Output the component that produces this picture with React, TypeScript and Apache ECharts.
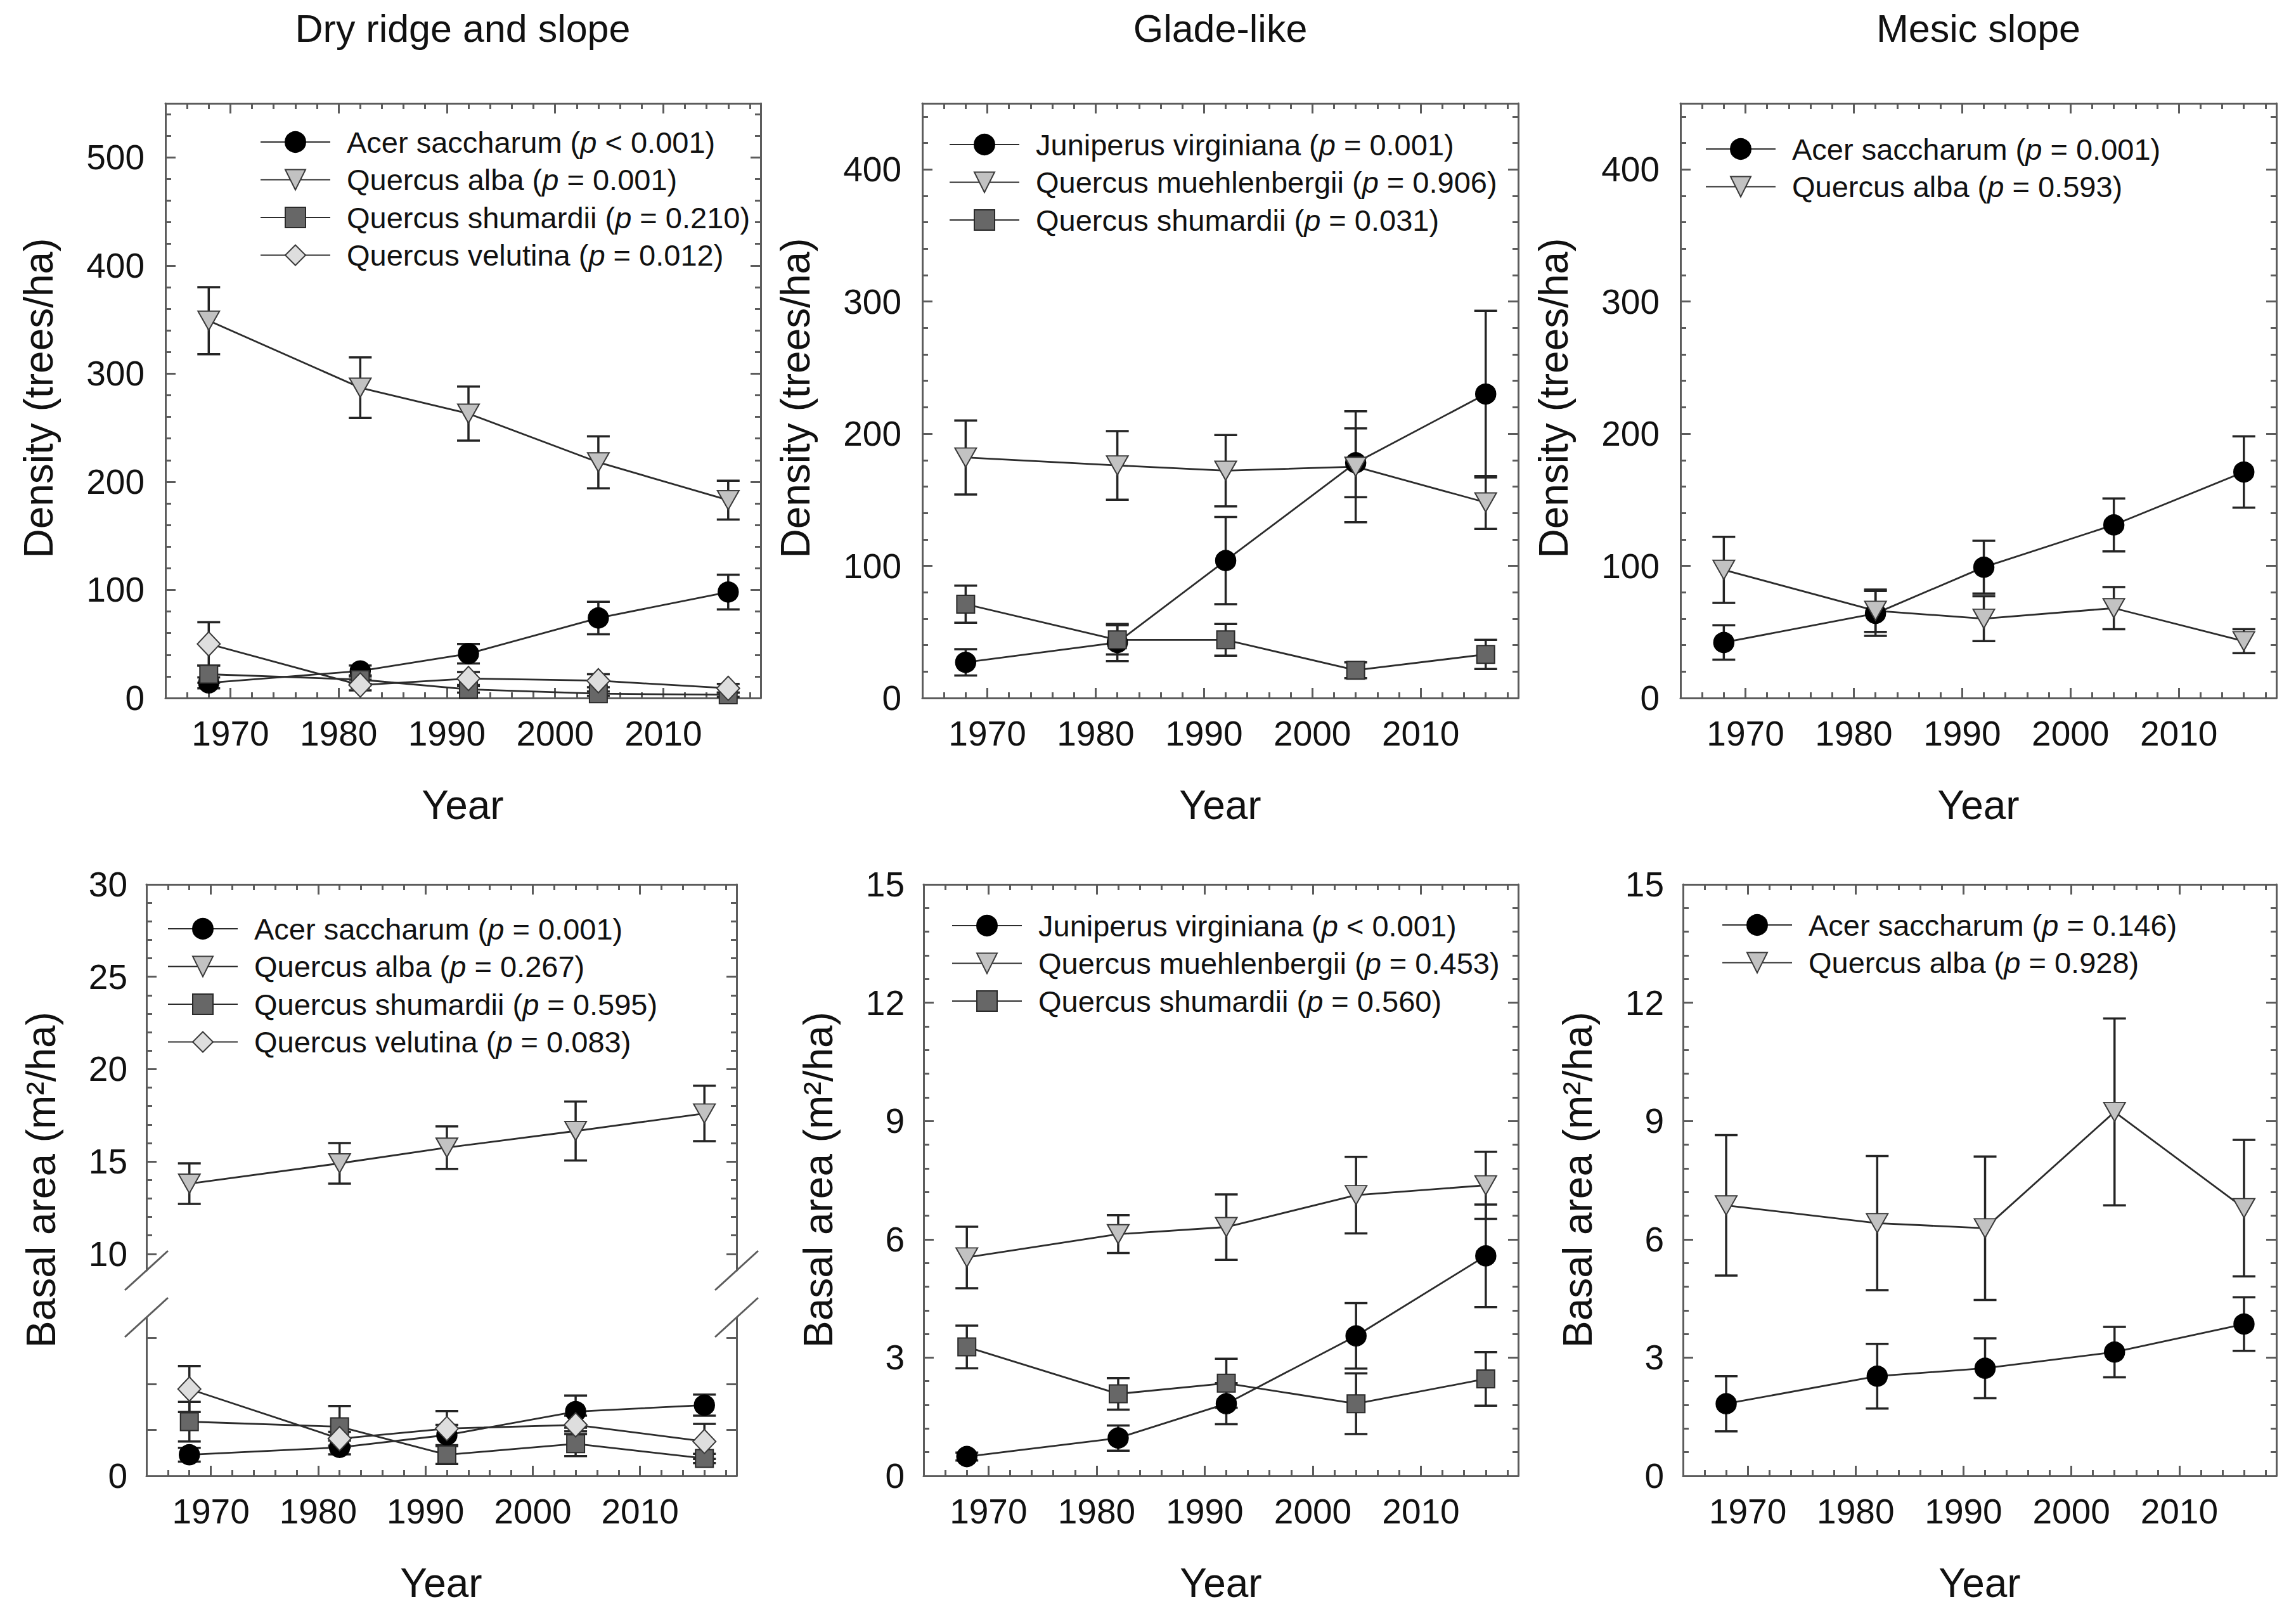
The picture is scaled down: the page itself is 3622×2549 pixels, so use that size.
import React, { useEffect, useRef } from "react";
import * as echarts from "echarts";

// ---------------- DATA ----------------
const YEARS = [1968, 1982, 1992, 2004, 2016];

// Density (trees/ha) — Dry ridge and slope
const dryDensAcer = [14, 25, 41, 74, 98];
const dryDensAcerSE = [5, 5, 9, 15, 16];
const dryDensAlba = [349, 287, 263, 218, 183];
const dryDensAlbaSE = [31, 28, 25, 24, 18];
const dryDensShum = [22, 17, 8, 4, 3];
const dryDensShumSE = [8, 4, 3, 2, 2];
const dryDensVel = [50, 12, 18, 16, 9];
const dryDensVelSE = [20, 5, 6, 6, 4];

// Density — Glade-like
const gladeDensJuni = [27, 42, 104, 178, 230];
const gladeDensJuniSE = [10, 14, 33, 26, 63];
const gladeDensMueh = [182, 176, 172, 175, 148];
const gladeDensMuehSE = [28, 26, 27, 42, 20];
const gladeDensShum = [71, 44, 44, 21, 33];
const gladeDensShumSE = [14, 11, 12, 6, 11];

// Density — Mesic slope
const mesicDensAcer = [42, 64, 99, 131, 171];
const mesicDensAcerSE = [13, 17, 20, 20, 27];
const mesicDensAlba = [97, 66, 60, 68, 43];
const mesicDensAlbaSE = [25, 16, 17, 16, 9];

// Basal area (m2/ha) — Dry ridge and slope
const dryBAAlba = [13.8, 14.9, 15.75, 16.65, 17.6];
const dryBAAlbaSE = [1.1, 1.1, 1.15, 1.6, 1.5];
const dryBAAcer = [0.46, 0.62, 0.89, 1.4, 1.54];
const dryBAAcerSE = [0.15, 0.15, 0.22, 0.35, 0.23];
const dryBAShum = [1.18, 1.07, 0.46, 0.7, 0.38];
const dryBAShumSE = [0.43, 0.45, 0.2, 0.27, 0.1];
const dryBAVel = [1.89, 0.81, 1.03, 1.11, 0.75];
const dryBAVelSE = [0.5, 0.15, 0.38, 0.2, 0.38];

// Basal area — Glade-like
const gladeBAJuni = [0.49, 0.96, 1.83, 3.55, 5.58];
const gladeBAJuniSE = [0.1, 0.32, 0.52, 0.83, 1.3];
const gladeBAMueh = [5.54, 6.13, 6.31, 7.12, 7.37];
const gladeBAMuehSE = [0.78, 0.48, 0.83, 0.97, 0.85];
const gladeBAShum = [3.27, 2.08, 2.35, 1.83, 2.46];
const gladeBAShumSE = [0.54, 0.4, 0.62, 0.77, 0.68];

// Basal area — Mesic slope
const mesicBAAcer = [1.83, 2.53, 2.73, 3.14, 3.85];
const mesicBAAcerSE = [0.7, 0.82, 0.76, 0.64, 0.68];
const mesicBAAlba = [6.86, 6.41, 6.28, 9.23, 6.79];
const mesicBAAlbaSE = [1.78, 1.7, 1.82, 2.37, 1.73];

// Tick labels
const X_TICKS = [1970, 1980, 1990, 2000, 2010];
const DENS_DRY_TICKS = [0, 100, 200, 300, 400, 500];
const DENS_TICKS = [0, 100, 200, 300, 400];
const BA_TICKS = [0, 3, 6, 9, 12, 15];
const BA_DRY_UPPER_TICKS = [10, 15, 20, 25, 30];
const BA_DRY_LOWER_LABELS = [0];
const BA_DRY_LOWER_MARKS = [1, 2, 3];

const TITLES = ["Dry ridge and slope", "Glade-like", "Mesic slope"];
const X_NAME = "Year";
const Y_NAME_DENS = "Density (trees/ha)";
const Y_NAME_BA = "Basal area (m\u00B2/ha)";

// ---------------- STYLE ----------------
const FONT = "'Liberation Sans', Arial, Helvetica, sans-serif";
const AX = "#5c5c5c";
const TXT = "#111";

const SYM: Record<string, any> = {
  circle: { symbol: "circle", symbolSize: 32, symbolRotate: 0, itemStyle: { color: "#000", borderColor: "#000", borderWidth: 1.5 } },
  tri: { symbol: "triangle", symbolSize: [34, 30], symbolRotate: 180, itemStyle: { color: "#c2c2c2", borderColor: "#3a3a3a", borderWidth: 2 } },
  square: { symbol: "rect", symbolSize: 28, symbolRotate: 0, itemStyle: { color: "#676767", borderColor: "#2a2a2a", borderWidth: 2 } },
  diamond: { symbol: "diamond", symbolSize: [36, 38], symbolRotate: 0, itemStyle: { color: "#dedede", borderColor: "#3a3a3a", borderWidth: 2 } },
};

function minorTicks(min: number, max: number, step: number, major: number) {
  const out: number[] = [];
  const k0 = Math.ceil(min / step - 1e-9);
  const k1 = Math.floor(max / step + 1e-9);
  for (let k = k0; k <= k1; k++) {
    const v = Math.round(k * step * 1e6) / 1e6;
    const r = v / major;
    if (Math.abs(r - Math.round(r)) < 1e-6) continue;
    if (v <= min + 1e-9 || v >= max - 1e-9) continue;
    out.push(v);
  }
  return out;
}

const X_MIN = 1964;
const X_MAX = 2019;
const X_MINOR = minorTicks(X_MIN, X_MAX, 2, 10);

type Panel = {
  grid: { left: number; top: number; width: number; height: number };
  yMin: number;
  yMax: number;
  yLabels: number[];
  yMajor: number[];
  yMinor: number[];
  top: boolean;
  bottom: boolean;
  xLabels: boolean;
  yMargin: number;
};

const PANELS: Panel[] = [
  { grid: { left: 261, top: 163, width: 939, height: 938 }, yMin: 0, yMax: 550, yLabels: DENS_DRY_TICKS, yMajor: DENS_DRY_TICKS, yMinor: minorTicks(0, 550, 20, 100), top: true, bottom: true, xLabels: true, yMargin: 33 },
  { grid: { left: 1455, top: 163, width: 940, height: 938 }, yMin: 0, yMax: 450, yLabels: DENS_TICKS, yMajor: DENS_TICKS, yMinor: minorTicks(0, 450, 20, 100), top: true, bottom: true, xLabels: true, yMargin: 33 },
  { grid: { left: 2651, top: 163, width: 940, height: 938 }, yMin: 0, yMax: 450, yLabels: DENS_TICKS, yMajor: DENS_TICKS, yMinor: minorTicks(0, 450, 20, 100), top: true, bottom: true, xLabels: true, yMargin: 33 },
  // dry basal area: upper part of broken axis
  { grid: { left: 231, top: 1395, width: 931, height: 609 }, yMin: 9.1, yMax: 30, yLabels: BA_DRY_UPPER_TICKS, yMajor: BA_DRY_UPPER_TICKS, yMinor: minorTicks(9.1, 30, 1, 5), top: true, bottom: false, xLabels: false, yMargin: 30 },
  // dry basal area: lower part of broken axis
  { grid: { left: 231, top: 2078, width: 931, height: 250 }, yMin: 0, yMax: 3.45, yLabels: BA_DRY_LOWER_LABELS, yMajor: BA_DRY_LOWER_MARKS, yMinor: [], top: false, bottom: true, xLabels: true, yMargin: 30 },
  { grid: { left: 1457, top: 1395, width: 938, height: 933 }, yMin: 0, yMax: 15, yLabels: BA_TICKS, yMajor: BA_TICKS, yMinor: minorTicks(0, 15, 0.6, 3), top: true, bottom: true, xLabels: true, yMargin: 30 },
  { grid: { left: 2655, top: 1395, width: 936, height: 933 }, yMin: 0, yMax: 15, yLabels: BA_TICKS, yMajor: BA_TICKS, yMinor: minorTicks(0, 15, 0.6, 3), top: true, bottom: true, xLabels: true, yMargin: 30 },
];

const LABELS: Record<string, string> = {};
function legendText(species: string, rel: string, val: string) {
  return `{n|${species} (}{i|p}{n| ${rel} ${val})}`;
}

function App() {
  const ref = useRef<HTMLDivElement>(null);

  useEffect(() => {
    if (!ref.current) return;
    const chart = echarts.init(ref.current, undefined, { renderer: "svg" });

    const xAxis: any[] = [];
    const yAxis: any[] = [];
    const grid: any[] = [];
    const series: any[] = [];
    const base: { x: number; y: number }[] = [];

    const tickStyle = { color: AX, width: 3 };
    const lineStyle = { color: AX, width: 3 };
    const labelStyle = { fontSize: 55, fontFamily: FONT, color: TXT, formatter: (v: number) => String(v) };

    PANELS.forEach((p, g) => {
      grid.push({ ...p.grid, containLabel: false, outerBoundsMode: "none", show: false });
      const xb = xAxis.length;
      const yb = yAxis.length;
      base.push({ x: xb, y: yb });
      const xc = { type: "value", gridIndex: g, min: X_MIN, max: X_MAX, splitLine: { show: false }, axisPointer: { show: false } };
      xAxis.push(
        { ...xc, position: "bottom", axisLine: { show: p.bottom, onZero: false, lineStyle }, axisTick: { show: p.bottom, inside: true, length: 16, customValues: X_TICKS, lineStyle: tickStyle }, axisLabel: { show: p.xLabels, customValues: X_TICKS, margin: 28, ...labelStyle } },
        { ...xc, position: "bottom", axisLine: { show: false, onZero: false }, axisTick: { show: p.bottom, inside: true, length: 9, customValues: X_MINOR, lineStyle: tickStyle }, axisLabel: { show: false } },
        { ...xc, position: "top", axisLine: { show: p.top, onZero: false, lineStyle }, axisTick: { show: p.top, inside: true, length: 16, customValues: X_TICKS, lineStyle: tickStyle }, axisLabel: { show: false } },
        { ...xc, position: "top", axisLine: { show: false, onZero: false }, axisTick: { show: p.top, inside: true, length: 9, customValues: X_MINOR, lineStyle: tickStyle }, axisLabel: { show: false } }
      );
      const yc = { type: "value", gridIndex: g, min: p.yMin, max: p.yMax, splitLine: { show: false }, axisPointer: { show: false } };
      yAxis.push(
        { ...yc, position: "left", axisLine: { show: true, onZero: false, lineStyle }, axisTick: { show: true, inside: true, length: 16, customValues: p.yMajor, lineStyle: tickStyle }, axisLabel: { show: true, customValues: p.yLabels, margin: p.yMargin, ...labelStyle } },
        { ...yc, position: "left", axisLine: { show: false, onZero: false }, axisTick: { show: p.yMinor.length > 0, inside: true, length: 9, customValues: p.yMinor.length ? p.yMinor : [p.yMin], lineStyle: tickStyle }, axisLabel: { show: false } },
        { ...yc, position: "right", axisLine: { show: true, onZero: false, lineStyle }, axisTick: { show: true, inside: true, length: 16, customValues: p.yMajor, lineStyle: tickStyle }, axisLabel: { show: false } },
        { ...yc, position: "right", axisLine: { show: false, onZero: false }, axisTick: { show: p.yMinor.length > 0, inside: true, length: 9, customValues: p.yMinor.length ? p.yMinor : [p.yMin], lineStyle: tickStyle }, axisLabel: { show: false } }
      );
    });

    function add(id: string, label: string, panel: number, vals: number[], se: number[], sym: string) {
      LABELS[id] = label;
      const b = base[panel];
      series.push({
        type: "custom",
        xAxisIndex: b.x,
        yAxisIndex: b.y,
        silent: true,
        z: 1,
        data: YEARS.map((yr, i) => [yr, vals[i] - se[i], vals[i] + se[i]]),
        encode: { x: 0, y: [1, 2] },
        renderItem: (params: any, api: any) => {
          const x = api.value(0);
          const lo = api.coord([x, api.value(1)]);
          const hi = api.coord([x, api.value(2)]);
          const w = 18;
          const st = { stroke: "#242424", lineWidth: 3.5 };
          return {
            type: "group",
            children: [
              { type: "line", shape: { x1: lo[0], y1: lo[1], x2: hi[0], y2: hi[1] }, style: st },
              { type: "line", shape: { x1: lo[0] - w, y1: lo[1], x2: lo[0] + w, y2: lo[1] }, style: st },
              { type: "line", shape: { x1: hi[0] - w, y1: hi[1], x2: hi[0] + w, y2: hi[1] }, style: st },
            ],
          };
        },
      });
      series.push({
        type: "line",
        name: id,
        xAxisIndex: b.x,
        yAxisIndex: b.y,
        silent: true,
        z: 3,
        data: YEARS.map((yr, i) => [yr, vals[i]]),
        lineStyle: { color: "#2c2c2c", width: 2.8 },
        ...SYM[sym],
      });
    }

    // Density
    add("d1_acer", legendText("Acer saccharum", "<", "0.001"), 0, dryDensAcer, dryDensAcerSE, "circle");
    add("d1_alba", legendText("Quercus alba", "=", "0.001"), 0, dryDensAlba, dryDensAlbaSE, "tri");
    add("d1_shum", legendText("Quercus shumardii", "=", "0.210"), 0, dryDensShum, dryDensShumSE, "square");
    add("d1_vel", legendText("Quercus velutina", "=", "0.012"), 0, dryDensVel, dryDensVelSE, "diamond");

    add("d2_juni", legendText("Juniperus virginiana", "=", "0.001"), 1, gladeDensJuni, gladeDensJuniSE, "circle");
    add("d2_mueh", legendText("Quercus muehlenbergii", "=", "0.906"), 1, gladeDensMueh, gladeDensMuehSE, "tri");
    add("d2_shum", legendText("Quercus shumardii", "=", "0.031"), 1, gladeDensShum, gladeDensShumSE, "square");

    add("d3_acer", legendText("Acer saccharum", "=", "0.001"), 2, mesicDensAcer, mesicDensAcerSE, "circle");
    add("d3_alba", legendText("Quercus alba", "=", "0.593"), 2, mesicDensAlba, mesicDensAlbaSE, "tri");

    // Basal area
    add("b1_acer", legendText("Acer saccharum", "=", "0.001"), 4, dryBAAcer, dryBAAcerSE, "circle");
    add("b1_alba", legendText("Quercus alba", "=", "0.267"), 3, dryBAAlba, dryBAAlbaSE, "tri");
    add("b1_shum", legendText("Quercus shumardii", "=", "0.595"), 4, dryBAShum, dryBAShumSE, "square");
    add("b1_vel", legendText("Quercus velutina", "=", "0.083"), 4, dryBAVel, dryBAVelSE, "diamond");

    add("b2_juni", legendText("Juniperus virginiana", "<", "0.001"), 5, gladeBAJuni, gladeBAJuniSE, "circle");
    add("b2_mueh", legendText("Quercus muehlenbergii", "=", "0.453"), 5, gladeBAMueh, gladeBAMuehSE, "tri");
    add("b2_shum", legendText("Quercus shumardii", "=", "0.560"), 5, gladeBAShum, gladeBAShumSE, "square");

    add("b3_acer", legendText("Acer saccharum", "=", "0.146"), 6, mesicBAAcer, mesicBAAcerSE, "circle");
    add("b3_alba", legendText("Quercus alba", "=", "0.928"), 6, mesicBAAlba, mesicBAAlbaSE, "tri");

    const rich = {
      n: { fontSize: 47, fontFamily: FONT, color: TXT, lineHeight: 50 },
      i: { fontSize: 47, fontFamily: FONT, color: TXT, lineHeight: 50, fontStyle: "italic" },
    };
    const mkLegend = (left: number, top: number, data: string[]) => ({
      orient: "vertical",
      left,
      top,
      padding: 0,
      itemWidth: 110,
      itemHeight: 40,
      itemGap: 9.5,
      selectedMode: false,
      data,
      formatter: (n: string) => LABELS[n],
      textStyle: { fontSize: 47, fontFamily: FONT, color: TXT, lineHeight: 50, padding: [0, 0, 0, 21], rich },
    });
    const legend = [
      mkLegend(410, 199, ["d1_acer", "d1_alba", "d1_shum", "d1_vel"]),
      mkLegend(1497, 203, ["d2_juni", "d2_mueh", "d2_shum"]),
      mkLegend(2690, 210, ["d3_acer", "d3_alba"]),
      mkLegend(264, 1440, ["b1_acer", "b1_alba", "b1_shum", "b1_vel"]),
      mkLegend(1501, 1435, ["b2_juni", "b2_mueh", "b2_shum"]),
      mkLegend(2716, 1434, ["b3_acer", "b3_alba"]),
    ];

    const txt = (text: string, x: number, y: number, size: number, rot = 0) => ({
      type: "text",
      x,
      y,
      rotation: rot,
      silent: true,
      style: { text, fontSize: size, fontFamily: FONT, fill: TXT, align: "center", verticalAlign: "middle" },
    });
    const brk = (cx: number, cy: number) => ({
      type: "line",
      silent: true,
      shape: { x1: cx - 34, y1: cy + 31, x2: cx + 34, y2: cy - 31 },
      style: { stroke: AX, lineWidth: 3 },
    });
    const graphic = [
      txt(TITLES[0], 730, 45, 61),
      txt(TITLES[1], 1925, 45, 61),
      txt(TITLES[2], 3121, 45, 61),
      txt(X_NAME, 730, 1270, 64),
      txt(X_NAME, 1925, 1270, 64),
      txt(X_NAME, 3121, 1270, 64),
      txt(X_NAME, 696, 2497, 64),
      txt(X_NAME, 1926, 2497, 64),
      txt(X_NAME, 3123, 2497, 64),
      txt(Y_NAME_DENS, 61, 628, 64, Math.PI / 2),
      txt(Y_NAME_DENS, 1255, 628, 64, Math.PI / 2),
      txt(Y_NAME_DENS, 2451, 628, 64, Math.PI / 2),
      txt(Y_NAME_BA, 65, 1861, 64, Math.PI / 2),
      txt(Y_NAME_BA, 1291, 1861, 64, Math.PI / 2),
      txt(Y_NAME_BA, 2489, 1861, 64, Math.PI / 2),
      brk(231, 2004),
      brk(231, 2078),
      brk(1162, 2004),
      brk(1162, 2078),
    ];

    chart.setOption({
      animation: false,
      backgroundColor: "#fff",
      textStyle: { fontFamily: FONT },
      grid,
      xAxis,
      yAxis,
      legend,
      series,
      graphic,
    });

    return () => chart.dispose();
  }, []);

  return (
    <div
      ref={ref}
      style={{ position: "absolute", left: 0, top: 0, width: 3622, height: 2549, background: "#fff" }}
    />
  );
}

export default App;
